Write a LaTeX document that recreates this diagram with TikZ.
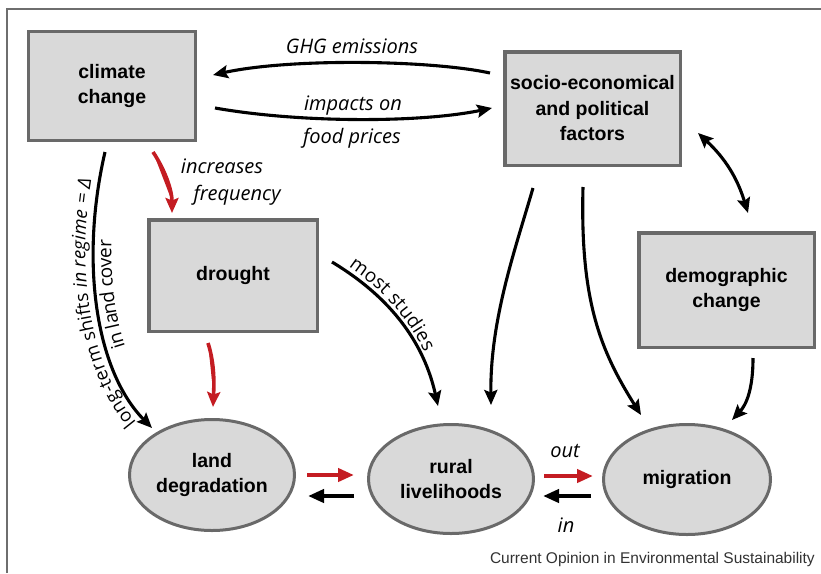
\documentclass[tikz,border=0pt]{standalone}
\usepackage{fontspec}
\setmainfont{Liberation Sans}
\newfontfamily\labfamily{Open Sans}
\usetikzlibrary{arrows.meta,decorations.text,shapes.geometric}
\definecolor{boxfill}{RGB}{217,217,217}
\definecolor{boxline}{RGB}{105,105,105}
\definecolor{redarr}{RGB}{196,28,34}
\definecolor{framecol}{RGB}{110,110,110}
\definecolor{captcol}{RGB}{50,50,50}
\newcommand\boxfont{\fontsize{19.5}{25.5}\selectfont\bfseries}
\newcommand\lab{\fontsize{20}{24}\selectfont\labfamily}
\newcommand\clab{\fontsize{19}{23}\selectfont\labfamily}
\newcommand\llab{\fontsize{18.5}{22}\selectfont\labfamily}
\tikzset{
  rbox/.style={rectangle, draw=boxline, fill=boxfill, line width=3.5pt, inner sep=0pt, align=center, font=\boxfont},
  ebox/.style={ellipse, draw=boxline, fill=boxfill, line width=3pt, inner sep=0pt, align=center, font=\boxfont},
  conn/.style={line width=3.1pt, -{Stealth[length=15pt,width=13pt,inset=2.5pt]}},
  dconn/.style={line width=3.1pt, {Stealth[length=15pt,width=13pt,inset=2.5pt]}-{Stealth[length=15pt,width=13pt,inset=2.5pt]}},
  rconn/.style={conn, line width=3.6pt, draw=redarr, fill=redarr},
  hbar/.style={line width=4.5pt, -{Triangle[length=16pt,width=13pt]}},
  lbl/.style={font=\lab\itshape, inner sep=0pt, anchor=base},
}
\begin{document}
\begin{tikzpicture}[x=1pt,y=-1pt]
\useasboundingbox (0,0) rectangle (821,573);
% frame
\draw[framecol, line width=1.6pt] (7,573) -- (7,9) -- (821,9);

% nodes
\node[rbox, minimum width=167pt, minimum height=109pt] (cc) at (112,86) {climate\\change};
\node[rbox, minimum width=175.5pt, minimum height=113.5pt] (so) at (592.5,108.5) {socio-economical\\and political\\factors};
\node[rbox, minimum width=168.5pt, minimum height=111.5pt] (dr) at (233,275.5) {drought};
\node[rbox, minimum width=175.5pt, minimum height=114.5pt] (dc) at (726.5,290) {demographic\\change};
\node[ebox, minimum width=165pt, minimum height=111pt] (ld) at (212,475) {land\\degradation};
\node[ebox, minimum width=165pt, minimum height=109pt] (rl) at (451,479) {rural\\livelihoods};
\node[ebox, minimum width=167pt, minimum height=110pt] (mg) at (687,479.5) {migration};

% connector end points
\coordinate (ghgS) at (490,73);   \coordinate (ghgE) at (213,75);
\coordinate (impS) at (215,108);  \coordinate (impE) at (492,108);
\coordinate (ifS) at (153,152);   \coordinate (ifE) at (172,213);
\coordinate (ltS) at (105,152);   \coordinate (ltE) at (152,428);
\coordinate (drS) at (208,343);   \coordinate (drE) at (213,407);
\coordinate (msS) at (332,262);   \coordinate (msE) at (438,406);
\coordinate (srS) at (533,188);   \coordinate (srE) at (491,405);
\coordinate (smS) at (583,187);   \coordinate (smE) at (641,415);
\coordinate (sdA) at (698,133);   \coordinate (sdB) at (748,213);
\coordinate (dmS) at (753,358);   \coordinate (dmE) at (732,420);

% curved connectors
\draw[conn] (ghgS) .. controls (430,60) and (290,58) .. (ghgE);
\draw[conn] (impS) .. controls (300,123) and (420,123) .. (impE);
\draw[rconn] (ifS) .. controls (165,170) and (172,190) .. (ifE);
\draw[conn] (ltS) .. controls (80,260) and (95,370) .. (ltE);
\draw[rconn] (drS) .. controls (215,365) and (214,385) .. (drE);
\draw[conn] (msS) .. controls (370,285) and (420,325) .. (msE);
\draw[conn] (srS) .. controls (515,250) and (490,320) .. (srE);
\draw[conn] (smS) .. controls (580,300) and (600,350) .. (smE);
\draw[dconn] (sdA) to[bend left=15] (sdB);
\draw[conn] (dmS) .. controls (753,390) and (746,405) .. (dmE);

% curved labels
\path[decorate, decoration={text along path, reverse path, raise=8pt, text align={left indent=14pt},
  text={|\llab\upshape|long-term shifts |\llab\itshape|in regime = Δ}}]
  (ltS) .. controls (80,260) and (95,370) .. (ltE);
\path[decorate, decoration={text along path, reverse path, raise=-18pt, text align=center,
  text={|\clab\upshape|in land cover}}]
  (ltS) .. controls (80,260) and (95,370) .. (ltE);
\path[decorate, decoration={text along path, raise=5pt, text align={left indent=16pt},
  text={|\clab\upshape|most studies}}]
  (msS) .. controls (370,285) and (420,325) .. (msE);

% horizontal arrows
\coordinate (lrA) at (307,475); \coordinate (lrB) at (354,475);
\coordinate (rlA) at (354,496); \coordinate (rlB) at (308,496);
\coordinate (rmA) at (544,476); \coordinate (rmB) at (593,476);
\coordinate (mrA) at (591,496); \coordinate (mrB) at (543,496);
\draw[hbar, redarr] (lrA) -- (lrB);
\draw[hbar] (rlA) -- (rlB);
\draw[hbar, redarr] (rmA) -- (rmB);
\draw[hbar] (mrA) -- (mrB);

% labels
\node[lbl] (ghgL) at (352,53) {GHG emissions};
\node[lbl] (impL) at (353,110) {impacts on};
\node[lbl] (fpL) at (352,143) {food prices};
\node[lbl] (incL) at (222,173) {increases};
\node[lbl] (frqL) at (237,200) {frequency};
\node[lbl] (outL) at (565,457) {out};
\node[lbl] (inL) at (566,532) {in};

% caption
\node[font=\fontsize{15.5}{18}\selectfont, text=captcol, anchor=base east, inner sep=0pt] (cap) at (815,563) {Current Opinion in Environmental Sustainability};
\end{tikzpicture}
\end{document}
